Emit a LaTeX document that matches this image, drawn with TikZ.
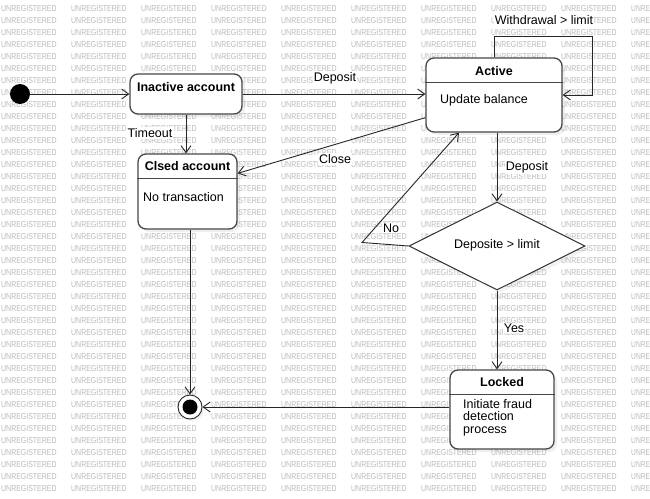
\documentclass[tikz,border=0pt]{standalone}
\usepackage{fontspec}
\setmainfont{Liberation Sans}
\usetikzlibrary{arrows.meta,shapes.geometric,shadows,calc}
\begin{document}
\begin{tikzpicture}[x=1pt,y=-1pt,
  every node/.style={font=\fontsize{12.5}{15}\selectfont},
  line/.style={draw=black!85, line width=0.9pt},
  arr/.style={line, -{Straight Barb[length=7pt,width=10pt]}},
  box/.style={draw=black!72, line width=1.3pt, fill=white, rounded corners=8pt,
    drop shadow={opacity=0.12, shadow xshift=3pt, shadow yshift=-3pt}},
  divider/.style={draw=black!72, line width=1.3pt},
  title/.style={font=\fontsize{12.5}{15}\selectfont\bfseries, inner sep=0pt},
  body/.style={anchor=west, inner sep=0pt, align=left, font=\fontsize{12.5}{12.5}\selectfont},
  lbl/.style={fill=white, inner sep=1pt},
  wm/.style={text=black!27, font=\fontsize{8.6}{9}\selectfont, inner sep=0pt, anchor=west}]
\useasboundingbox (0,0) rectangle (650,498);
\clip (0,0) rectangle (650,498);
\fill[white] (0,0) rectangle (650,498);
% watermark
\foreach \r in {0,...,40} {
  \foreach \c in {0,...,8} {
    \node[wm] (wm-\r-\c) at (\c*70+1, 8.5+\r*12) {\scalebox{0.81}[1]{UNREGISTERED}};
  }
  \node[wm] (wm-\r-9) at (631, 8.5+\r*12) {\scalebox{0.78}[1]{UNRE}};
}
% states
\node[circle, fill=black, minimum size=20pt, inner sep=0pt] (init) at (20,94) {};
\node[box, minimum width=112pt, minimum height=40pt] (inact) at (186,94) {};
\node[title] (inactT) at (186,87) {Inactive account};
\node[box, minimum width=136pt, minimum height=74pt] (act) at (494,95) {};
\draw[divider] ($(act.north west)+(0,25)$) -- ($(act.north east)+(0,25)$);
\node[title] (actT) at (494,71) {Active};
\node[body] (actB) at (440,100) {Update balance};
\node[box, minimum width=99pt, minimum height=75pt] (clsed) at (187.5,191.5) {};
\draw[divider] ($(clsed.north west)+(0,25)$) -- ($(clsed.north east)+(0,25)$);
\node[title] (clsedT) at (187.5,166) {Clsed account};
\node[body] (clsedB) at (143,197) {No transaction};
\node[diamond, draw=black!80, line width=1pt, fill=white, minimum width=176pt, minimum height=88pt, inner sep=0pt,
  drop shadow={opacity=0.10, shadow xshift=3pt, shadow yshift=-3pt}] (dia) at (497,246) {};
\node (diaT) at (497,245) {Deposite > limit};
\node[box, minimum width=104pt, minimum height=79pt] (locked) at (502,409.5) {};
\draw[divider] ($(locked.north west)+(0,25)$) -- ($(locked.north east)+(0,25)$);
\node[title] (lockedT) at (502,382) {Locked};
\node[body] (lockedB) at (463,417.5) {Initiate fraud\\detection\\process};
\node[circle, draw=black!85, line width=0.9pt, fill=white, minimum size=24pt, inner sep=0pt,
  drop shadow={opacity=0.12, shadow xshift=2pt, shadow yshift=-2pt}] (fin) at (190,407) {};
\node[circle, fill=black, minimum size=15pt, inner sep=0pt] (finIn) at (fin) {};
% coordinates
\coordinate (loopA) at ($(act.north)+(0,-21)$);
\coordinate (loopB) at ($(act.east)+(30,0)$);
\coordinate (closeS) at ($(act.south west)+(0,-15)$);
\coordinate (closeE) at ($(clsed.north east)+(0,20)$);
\coordinate (noC) at (362,242.5);
\coordinate (noE) at ($(act.south)+(-35,0)$);
% transitions
\draw[arr] (init) -- (inact.west |- init);
\draw[arr] (inact.east) -- (inact.east -| act.west);
\draw[arr] (act.north) -- (loopA) -| (loopB) -- (act.east);
\draw[arr] (inact.south) -- (inact.south |- clsed.north);
\draw[arr] (closeS) -- (closeE);
\draw[arr] (act.south -| dia.north) -- (dia.north);
\draw[arr] (dia.west) -- (noC) -- (noE);
\draw[arr] (dia.south) -- (dia.south |- locked.north);
\draw[arr] (clsed.south -| fin) -- (fin.north);
\draw[arr] (locked.west |- fin) -- (fin.east);
% labels
\node[lbl] (lWd) at (544,20) {Withdrawal > limit};
\node[lbl] (lDep1) at (335,78) {Deposit};
\node[lbl] (lTo) at (150,133) {Timeout};
\node[lbl] (lCl) at (335,159) {Close};
\node[lbl] (lDep2) at (527,167) {Deposit};
\node[lbl] (lNo) at (391,228) {No};
\node[lbl] (lYes) at (514,328) {Yes};
\end{tikzpicture}
\end{document}
